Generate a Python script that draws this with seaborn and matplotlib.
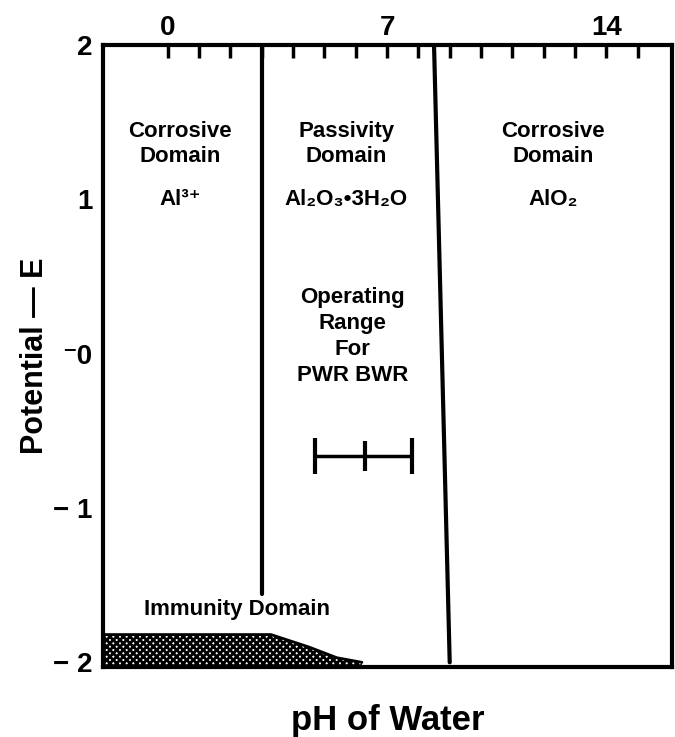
import numpy as np
import pandas as pd
import matplotlib
matplotlib.use("Agg")
import matplotlib.pyplot as plt
import seaborn as sns

sns.set_style("white")
plt.rcParams['font.family'] = ['Liberation Sans', 'DejaVu Sans']
plt.rcParams['hatch.linewidth'] = 2.0
plt.rcParams['text.color'] = 'black'
plt.rcParams['xtick.color'] = 'black'
plt.rcParams['ytick.color'] = 'black'
plt.rcParams['axes.labelcolor'] = 'black'

# domain boundaries (pH, E)
left_bound_ph = [3.0, 3.0]
left_bound_e = [2.0, -1.56]
right_bound_ph = [8.5, 9.0]
right_bound_e = [2.0, -2.0]

# immunity domain top edge
imm_ph = [-2.05, 3.3, 4.5, 5.4, 6.2]
imm_top = [-1.82, -1.82, -1.9, -1.97, -2.0]

# PWR / BWR operating range
op_low, op_mid, op_high = 4.7, 6.3, 7.8
op_e = -0.66

top_ticks = [0, 7, 14]
minor_ticks = list(range(0, 16))
y_ticks = [2, 1, 0, -1, -2]
y_labels = ["2", "1", "\u207b0", "\u2212 1", "\u2212 2"]

fig = plt.figure(figsize=(6.75, 7.37), dpi=100)
ax = fig.add_axes([0.153, 0.095, 0.843, 0.844])

bounds = pd.DataFrame({
    "ph": left_bound_ph + right_bound_ph,
    "E": left_bound_e + right_bound_e,
    "line": ["a", "a", "b", "b"],
})
sns.lineplot(data=bounds, x="ph", y="E", units="line", estimator=None,
             color="black", lw=3, sort=False, ax=ax)

ax.fill_between(imm_ph, imm_top, -2.03, facecolor="white",
                edgecolor="black", hatch="xxxxx", lw=0)
sns.lineplot(x=imm_ph, y=imm_top, color="black", lw=2, sort=False, ax=ax)

ax.errorbar([op_mid], [op_e], xerr=[[op_mid - op_low], [op_high - op_mid]],
            fmt="none", ecolor="black", elinewidth=2.5, capsize=13, capthick=3)
ax.plot([op_mid], [op_e], marker="|", ms=22, mew=3, color="black")

txt = dict(ha="center", va="center", fontsize=16, fontweight="bold")
ax.text(0.4, 1.36, "Corrosive\nDomain", linespacing=1.25, **txt)
ax.text(0.4, 1.0, "Al\u00b3\u207a", **txt)
ax.text(5.7, 1.36, "Passivity\nDomain", linespacing=1.25, **txt)
ax.text(5.7, 1.0, "Al\u2082O\u2083\u20223H\u2082O", **txt)
ax.text(12.3, 1.36, "Corrosive\nDomain", linespacing=1.25, **txt)
ax.text(12.3, 1.0, "AlO\u2082", **txt)
ax.text(5.9, 0.11, "Operating\nRange\nFor\nPWR BWR", linespacing=1.3, **txt)
ax.text(2.2, -1.66, "Immunity Domain", **txt)

ax.set_xlim(-2.05, 16.1)
ax.set_ylim(-2.03, 2.0)

ax.xaxis.tick_top()
ax.set_xticks(top_ticks)
ax.set_xticks(minor_ticks, minor=True)
ax.set_xticklabels([str(t) for t in top_ticks], fontsize=20, fontweight="bold")
ax.tick_params(axis="x", which="both", direction="in", length=9, width=2.5, pad=3)

ax.set_yticks(y_ticks)
ax.set_yticklabels(y_labels, fontsize=20, fontweight="bold")
ax.tick_params(axis="y", length=0, pad=8)

for s in ax.spines.values():
    s.set_linewidth(3)
    s.set_color("black")

ax.set_xlabel("pH of Water", fontsize=25, fontweight="bold", labelpad=27)
ax.xaxis.set_label_position("bottom")
ax.set_ylabel("Potential \u2014 E", fontsize=22, fontweight="bold", labelpad=2)

fig.savefig("out.png", dpi=100)
